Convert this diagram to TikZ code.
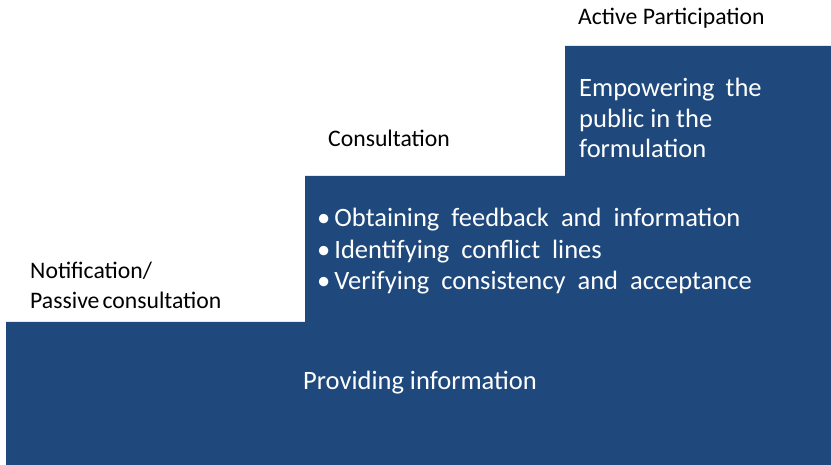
\documentclass[tikz,border=0pt]{standalone}
\usepackage{fontspec}
\setmainfont{Carlito}
\definecolor{stepblue}{RGB}{31,73,125}
\tikzset{
  lbl/.style={anchor=base west,inner sep=0pt,font=\fontsize{23.7}{28}\selectfont,text=black},
  intext/.style={anchor=base west,inner sep=0pt,font=\fontsize{26.5}{31}\selectfont,text=white},
}
\begin{document}
\begin{tikzpicture}[x=1pt,y=-1pt]
\useasboundingbox (0,0) rectangle (831,465);
\fill[stepblue] (6,465) -- (6,322) -- (305,322) -- (305,176) -- (565,176) -- (565,46) -- (831,46) -- (831,465) -- cycle;
\node[lbl] (ap) at (578,25) {Active Participation};
\node[lbl] (co) at (328,147) {Consultation};
\node[lbl] (no) at (30,279) {Notification/};
\node[lbl] (pc) at (30,309) {Passive\hspace{3pt}consultation};
\node[intext] (e1) at (579,97) {Empowering\hspace{11pt}the};
\node[intext] (e2) at (579,128) {public in the};
\node[intext] (e3) at (579,158) {formulation};
\node[intext] (b1) at (317,227) {\textbullet\hspace{4pt}Obtaining\hspace{12pt}feedback\hspace{12pt}and\hspace{12pt}information};
\node[intext] (b2) at (317,259) {\textbullet\hspace{4pt}Identifying\hspace{12pt}conflict\hspace{12pt}lines};
\node[intext] (b3) at (317,290) {\textbullet\hspace{4pt}Verifying\hspace{12pt}consistency\hspace{12pt}and\hspace{12pt}acceptance};
\node[intext] (pi) at (303,390) {Providing information};
\end{tikzpicture}
\end{document}
